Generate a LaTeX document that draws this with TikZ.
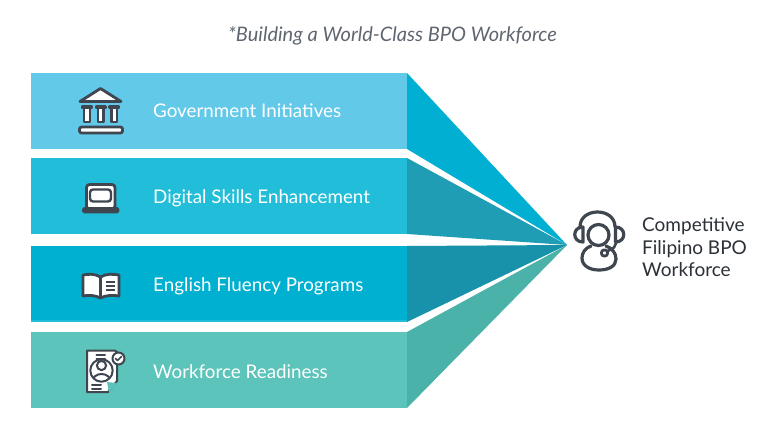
\documentclass[tikz,border=0pt]{standalone}
\usepackage{fontspec}
\setmainfont{Lato}
\definecolor{barA}{HTML}{62C9E9}
\definecolor{barB}{HTML}{22BDD8}
\definecolor{barC}{HTML}{00B0D1}
\definecolor{barD}{HTML}{5CC4BA}
\definecolor{triA}{HTML}{00AFD1}
\definecolor{triB}{HTML}{1F9DB5}
\definecolor{triC}{HTML}{1792AA}
\definecolor{triD}{HTML}{4AB2A8}
\definecolor{ink}{HTML}{3F4650}
\definecolor{capt}{HTML}{5F6670}
\tikzset{
  bartext/.style={anchor=west,text=white,font=\fontsize{18.8}{20}\selectfont,inner sep=0pt},
  icon/.style={draw=ink,line width=2.8pt,line join=round,line cap=round},
  iconthin/.style={draw=ink,line width=2pt,line join=round,line cap=round},
  barbox/.style={inner sep=0pt,outer sep=0pt,minimum width=376pt,minimum height=76pt,anchor=north west}
}
\begin{document}
\begin{tikzpicture}[x=1pt,y=-1pt]
\useasboundingbox (0,0) rectangle (780,436);
\fill[white] (0,0) rectangle (780,436);
\node[anchor=center,text=capt,font=\fontsize{20}{22}\selectfont\itshape,inner sep=0pt] (title) at (392.5,35.5) {*Building a World-Class BPO Workforce};
% bars
\node[barbox,fill=barA] (b1) at (31,73) {};
\node[barbox,fill=barB] (b2) at (31,158) {};
\node[barbox,fill=barC] (b3) at (31,246) {};
\node[barbox,fill=barD] (b4) at (31,332) {};
\fill[barB] (31,320) rectangle (407,322);
% wedges
\coordinate (apex) at (567,245);
\fill[triA] (b1.north east) -- (b1.south east) -- (apex) -- cycle;
\fill[triB] (b2.north east) -- (b2.south east) -- (apex) -- cycle;
\fill[triC] (b3.north east) -- (b3.south east) -- (apex) -- cycle;
\fill[triD] (b4.north east) -- (b4.south east) -- (apex) -- cycle;
% labels
\node[bartext] (t1) at (153,110.5) {Government Initiatives};
\node[bartext] (t2) at (153,198.5) {Digital Skills Enhancement};
\node[bartext] (t3) at (153,286) {English Fluency Programs};
\node[bartext] (t4) at (153,371.5) {Workforce Readiness};
\node[anchor=west,align=left,text=ink!70!black,font=\fontsize{19}{22.5}\selectfont,inner sep=0pt] (goal) at (642,247.5) {Competitive\\Filipino BPO\\Workforce};
% government icon
\filldraw[icon,fill=white] (80,101.5) -- (100.5,88.5) -- (121,101.5) -- cycle;
\filldraw[icon,fill=white] (82,106.5) rectangle (92,108);
\filldraw[icon,fill=white] (96,106.5) rectangle (105.5,108);
\filldraw[icon,fill=white] (109.5,106.5) rectangle (119,108);
\filldraw[icon,fill=white] (84,108) rectangle (90,122);
\filldraw[icon,fill=white] (98,108) rectangle (103.5,122);
\filldraw[icon,fill=white] (111.5,108) rectangle (117,122);
\filldraw[icon,fill=white,rounded corners=2pt] (79.5,127) rectangle (122.5,133);
% laptop icon
\filldraw[icon,fill=white,rounded corners=3pt] (86.5,184.5) rectangle (115,209);
\filldraw[iconthin,line width=2.4pt,fill=white,rounded corners=3pt] (90,189.5) rectangle (111,201.5);
\filldraw[icon,fill=ink,rounded corners=1pt] (83.5,208.5) rectangle (118,212);
% book icon
\filldraw[icon,fill=white] (100.5,277) .. controls (95,273.5) and (88,274) .. (83,275) -- (83,296) .. controls (88,295) and (95,295) .. (100.5,298) .. controls (106,295) and (113,295) .. (119,296) -- (119,275) .. controls (113,274) and (106,273.5) .. (100.5,277) -- cycle;
\draw[icon] (100.5,277) -- (100.5,298);
\draw[icon,line cap=butt,line width=2.2pt] (105.5,282) -- (115,282) (105.5,286) -- (115,286) (105.5,290) -- (115,290);
% resume icon
\filldraw[iconthin,fill=white] (87,350.5) -- (115,350.5) -- (117,352) -- (117,381) -- (108,392) -- (87,392) -- cycle;
\fill[barD] (107,382) -- (117,383) -- (109,392.5) -- cycle;
\draw[iconthin] (96.5,355) -- (105,355) (96.5,358.5) -- (105,358.5);
\draw[iconthin] (92,385) -- (101,385) (92,388.5) -- (101,388.5);
\draw[iconthin] (101.5,370.5) circle (11.2);
\draw[iconthin] (101.5,365.5) circle (4.6);
\begin{scope}
\clip (101.5,370.5) circle (11.2);
\draw[iconthin] (92,383) .. controls (92,371) and (111,371) .. (111,383);
\end{scope}
\filldraw[iconthin,fill=white] (118.5,358.5) circle (6);
\draw[iconthin,line width=1.6pt] (115.5,358.5) -- (117.5,360.5) -- (121.5,356.5);
% agent icon
\begin{scope}[shift={(560,200)}]
\draw[icon,line width=3.2pt] (20,27) .. controls (20,7) and (55,7) .. (55,27);
\draw[icon,line width=3.2pt] (23,27) -- (23,42) .. controls (12,42) and (12,27) .. (23,27) -- cycle;
\draw[icon,line width=3.2pt] (55.5,27) -- (55.5,42) .. controls (66.5,42) and (66.5,27) .. (55.5,27) -- cycle;
\draw[icon,line width=3.2pt] (38.5,35) circle (10.5);
\draw[icon,line width=3.2pt] (31,46) .. controls (25,48) and (22,53) .. (22,58) .. controls (22,66) and (30,70) .. (39,70) .. controls (49,70) and (56,66) .. (56,59) .. controls (56,53) and (52,48) .. (46,46);
\draw[icon,line width=2.6pt] (56.5,42) -- (54,47.5) -- (48,51);
\draw[icon,line width=2.8pt] (44.5,53) circle (3.2);
\end{scope}
\end{tikzpicture}
\end{document}
